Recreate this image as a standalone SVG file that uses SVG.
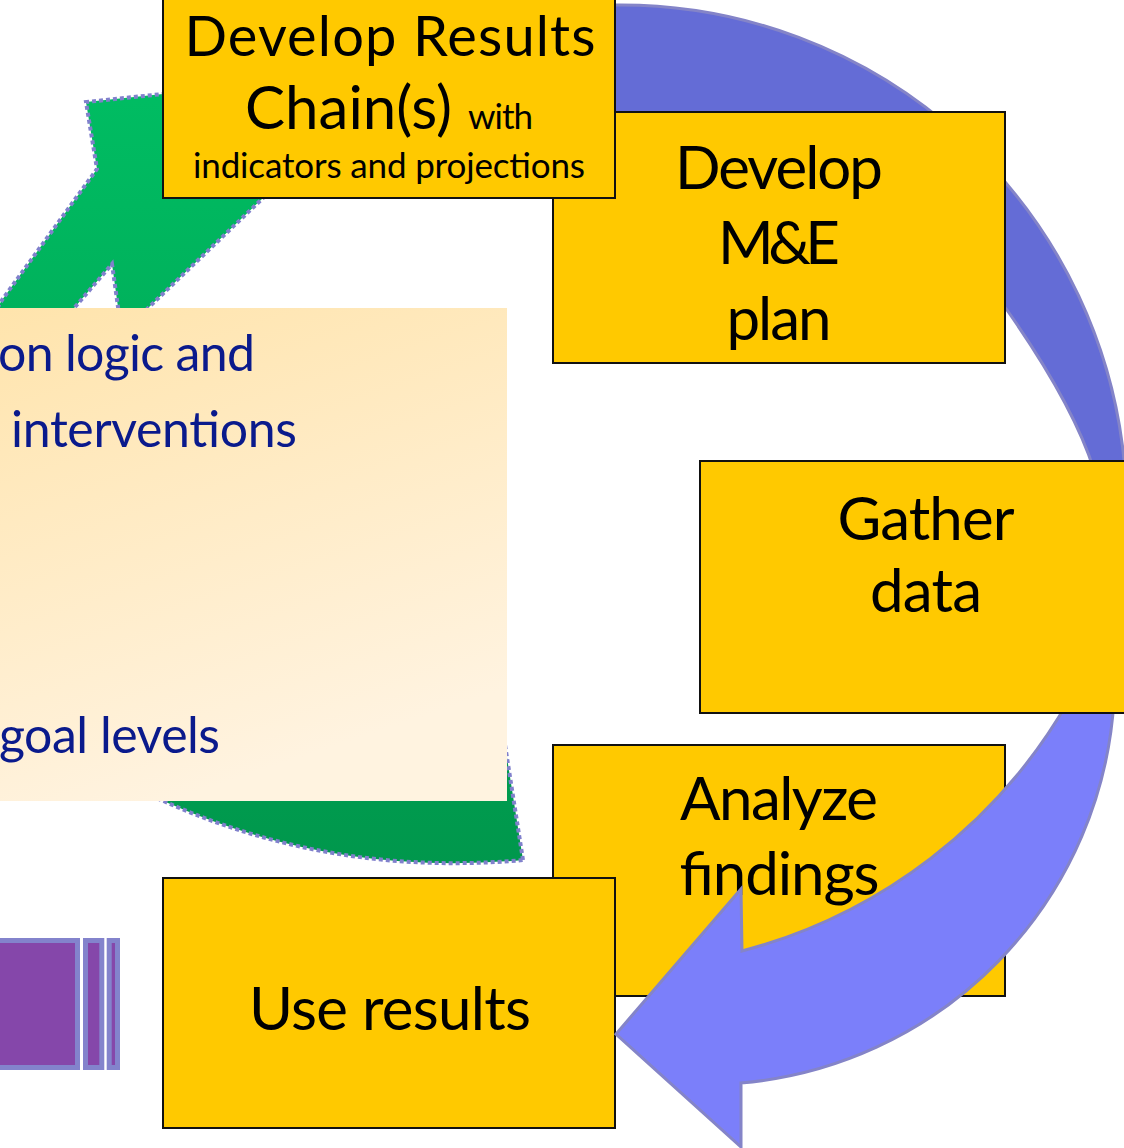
<svg xmlns="http://www.w3.org/2000/svg" width="1124" height="1148" viewBox="0 0 1124 1148">
  <defs>
    <linearGradient id="gGreen" gradientUnits="userSpaceOnUse" x1="0" y1="100" x2="0" y2="870">
      <stop offset="0" stop-color="#00BC62"/>
      <stop offset="1" stop-color="#00974C"/>
    </linearGradient>
    <linearGradient id="gBeige" x1="0" y1="0" x2="0.35" y2="1">
      <stop offset="0" stop-color="#FFE4AC"/>
      <stop offset="1" stop-color="#FFF3E0"/>
    </linearGradient>
  </defs>
  <style>
    .box { fill: #FFC900; stroke: #111111; stroke-width: 2; }
    .lbl { font-family: Lato, "Liberation Sans", sans-serif; fill: #000000; text-anchor: middle; }
    .big { font-size: 60px; }
    .small { font-size: 35px; }
    .nav { font-family: Lato, "Liberation Sans", sans-serif; fill: #0A1A8C; font-size: 50px; }
    .band { stroke: #8484C8; stroke-width: 3; stroke-linejoin: miter; }
    .bar { fill: #8547AA; stroke: #8383CC; stroke-width: 5; }
  </style>

  <g id="connectors">
    <path id="green-arrow" d="M 523,860 L 498,700 L 147,309 L 263,198 L 300,120 L 163,94 L 86,102 L 97,169 L 2,300 L -5,312 L 70.7,312 L 112,264 L 118.7,312 L 100,500 L 100,760 L 150,795 L 168,803 Q 335,877 523,860 Z" fill="url(#gGreen)" stroke="#8080CC" stroke-width="4" stroke-dasharray="4 3"/>
  </g>

  <g id="context-box">
    <rect x="-10" y="308" width="517" height="493" fill="url(#gBeige)"/>
    <text class="nav" x="255" y="371" text-anchor="end" textLength="257">on logic and</text>
    <text class="nav" x="11" y="447" textLength="286">interventions</text>
    <text class="nav" x="220" y="753" text-anchor="end" textLength="221">goal levels</text>
  </g>

  <g id="cycle-upper">
    <path class="band" d="M 600,5 L 621,5 A 506 506 0 0 1 1125,470 L 1094,470 Q 1073,404 1007,310 L 985,285 L 620,190 L 600,190 Z" fill="#646CD6"/>
  </g>

  <g id="node-me-plan">
    <rect class="box" x="553" y="112" width="452" height="251"/>
    <text class="lbl big" x="779" y="189" textLength="208">Develop</text>
    <text class="lbl big" x="779" y="264" textLength="122">M&amp;E</text>
    <text class="lbl big" x="779" y="340" textLength="105">plan</text>
  </g>

  <g id="node-results-chain">
    <rect class="box" x="163" y="-53" width="452" height="251"/>
    <text class="lbl" style="font-size:56px" x="390" y="56" textLength="411">Develop Results</text>
    <text class="lbl big" x="245" y="129" style="text-anchor:start" textLength="207">Chain(s)</text>
    <text class="lbl small" x="468" y="129" style="text-anchor:start" textLength="65">with</text>
    <text class="lbl small" x="389" y="178" textLength="392">indicators and projections</text>
  </g>

  <g id="node-analyze">
    <rect class="box" x="553" y="745" width="452" height="251"/>
    <text class="lbl big" x="779" y="820" textLength="198">Analyze</text>
    <text class="lbl big" x="779" y="895" textLength="200">findings</text>
  </g>

  <g id="node-use">
    <rect class="box" x="163" y="878" width="452" height="250"/>
    <text class="lbl big" x="390" y="1030" textLength="282">Use results</text>
  </g>

  <g id="cycle-lower">
    <path class="band" d="M 1114,700 A 409 409 0 0 1 741,1083 L 741,1147 L 616,1034 L 741,889 L 742,951 A 534 534 0 0 0 1069,700 Z" fill="#7B7FFA"/>
  </g>

  <g id="node-gather">
    <rect class="box" x="700" y="461" width="452" height="252"/>
    <text class="lbl big" x="926" y="540" textLength="177">Gather</text>
    <text class="lbl big" x="926" y="612" textLength="112">data</text>
  </g>

  <g id="bars">
    <rect class="bar" x="-10" y="940.5" width="87.5" height="127"/>
    <rect class="bar" x="85.5" y="940.5" width="16.3" height="127"/>
    <rect class="bar" x="109.2" y="940.5" width="8.3" height="127"/>
  </g>
</svg>
